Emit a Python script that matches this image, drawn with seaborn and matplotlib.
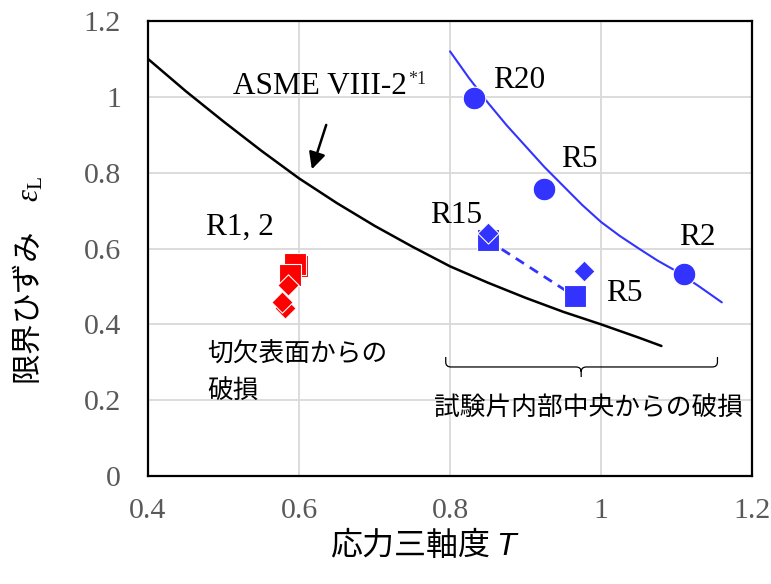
import numpy as np
import pandas as pd
import matplotlib
matplotlib.use("Agg")
import matplotlib.pyplot as plt
import seaborn as sns
from matplotlib.path import Path
from matplotlib.patches import PathPatch
from matplotlib.ticker import FuncFormatter

# ASME VIII-2 の限界ひずみ曲線
asme_T = [0.40, 0.45, 0.50, 0.55, 0.60, 0.65, 0.70, 0.75, 0.80, 0.85, 0.90, 0.95, 1.00, 1.05, 1.08]
asme_eps = [1.10, 1.015, 0.935, 0.858, 0.785, 0.72, 0.66, 0.605, 0.553, 0.51, 0.47, 0.433, 0.40, 0.365, 0.343]

# 内部破損の近似曲線
fit_T = [0.80, 0.825, 0.85, 0.875, 0.90, 0.925, 0.95, 0.975, 1.00, 1.025, 1.05, 1.075, 1.10, 1.13, 1.16]
fit_eps = [1.12, 1.05, 0.985, 0.925, 0.87, 0.815, 0.765, 0.715, 0.67, 0.633, 0.60, 0.568, 0.54, 0.50, 0.458]

# 丸（R20, R5, R2）
circ_T = [0.832, 0.924, 1.110]
circ_eps = [0.997, 0.757, 0.532]

# 青の四角・ひし形（R15, R5）
sq_T = [0.850, 0.965]
sq_eps = [0.622, 0.474]
dia_T = [0.850, 0.977]
dia_eps = [0.641, 0.541]

# 赤（R1, 2 切欠表面からの破損）
red_sq_T = [0.597, 0.594, 0.588]
red_sq_eps = [0.553, 0.560, 0.531]
red_dia_T = [0.581, 0.578, 0.585]
red_dia_eps = [0.443, 0.459, 0.503]

x_ticks = [0.4, 0.6, 0.8, 1.0, 1.2]
y_ticks = [0, 0.2, 0.4, 0.6, 0.8, 1.0, 1.2]

blue = "#3333ff"
red = "#ff0000"

sns.set_theme(style="whitegrid")
plt.rcParams["font.family"] = ["Liberation Serif", "Noto Sans CJK JP"]
plt.rcParams["mathtext.fontset"] = "custom"
plt.rcParams["mathtext.rm"] = "Liberation Serif"
plt.rcParams["mathtext.it"] = "Liberation Serif:italic"
plt.rcParams["mathtext.sf"] = "Liberation Sans:italic"

fig = plt.figure(figsize=(7.71, 5.84), dpi=100)
ax = fig.add_axes([0.192, 0.1849, 0.7834, 0.7791])

# 曲線
sns.lineplot(x=asme_T, y=asme_eps, color="black", lw=1.8, sort=False, ax=ax, zorder=3)
sns.lineplot(x=fit_T, y=fit_eps, color=blue, lw=1.5, sort=False, ax=ax, zorder=3)
sns.lineplot(x=sq_T, y=sq_eps, color=blue, lw=2, linestyle=(0, (3.5, 2.5)), ax=ax, zorder=3)

# マーカー
mk = dict(edgecolor="white", linewidth=0.8, legend=False, ax=ax, zorder=4)
sns.scatterplot(x=circ_T, y=circ_eps, marker="o", s=266, color=blue, **mk)
sns.scatterplot(x=sq_T, y=sq_eps, marker="s", s=243, color=blue, **mk)
sns.scatterplot(x=dia_T, y=dia_eps, marker="D", s=116, color=blue, **mk)
sns.scatterplot(x=red_sq_T, y=red_sq_eps, marker="s", s=243, color=red, **mk)
sns.scatterplot(x=red_dia_T, y=red_dia_eps, marker="D", s=118, color=red, **mk)

# ラベル
lab = dict(fontfamily="Liberation Serif", fontsize=22.5, color="black", va="baseline")
ax.text(0.857, 1.0245, "R20", **lab)
ax.text(0.947, 0.814, "R5", **lab)
ax.text(1.104, 0.608, "R2", **lab)
ax.text(0.7736, 0.6666, "R15", **lab)
ax.text(1.0071, 0.4613, "R5", **lab)
ax.text(0.477, 0.637, "R1, 2", **lab)
asme = ax.text(0.5129, 1.007, "ASME VIII-2", **lab)
ax.annotate("*1", xy=(1, 1), xycoords=asme, xytext=(1, 1), textcoords="offset points",
            ha="left", va="top", fontfamily="Liberation Serif", fontsize=13)
ax.annotate("", xy=(0.617, 0.809), xytext=(0.636, 0.926),
            arrowprops=dict(arrowstyle="-|>", color="black", lw=1.8, mutation_scale=25,
                            shrinkA=0, shrinkB=0))

jp = dict(fontfamily="Noto Sans CJK JP", fontsize=18.5, color="black")
ax.text(0.4785, 0.272, "切欠表面からの\n破損", ha="left", va="center", linespacing=1.55, **jp)
ax.text(0.983, 0.176, "試験片内部中央からの破損", ha="center", va="center", **jp)

# 中括弧
bx0, bx1, bxm = 0.7943, 1.1542, 0.9737
by0, by1, by2 = 0.314, 0.2876, 0.261
rx, ry = 0.007, 0.013
verts = [(bx0, by0), (bx0, by1 + ry), (bx0, by1), (bx0 + rx, by1),
         (bxm - rx, by1), (bxm, by1), (bxm, by1 - ry), (bxm, by2),
         (bxm, by1 - ry), (bxm, by1), (bxm + rx, by1),
         (bx1 - rx, by1), (bx1, by1), (bx1, by1 + ry), (bx1, by0)]
codes = [Path.MOVETO, Path.LINETO, Path.CURVE3, Path.CURVE3,
         Path.LINETO, Path.CURVE3, Path.CURVE3, Path.LINETO,
         Path.MOVETO, Path.CURVE3, Path.CURVE3,
         Path.LINETO, Path.CURVE3, Path.CURVE3, Path.LINETO]
ax.add_patch(PathPatch(Path(verts, codes), fill=False, lw=0.9, color="black", zorder=3))

# 軸
ax.set_xlim(0.4, 1.2)
ax.set_ylim(0, 1.2)
ax.set_xticks(x_ticks)
ax.set_yticks(y_ticks)
fmt = FuncFormatter(lambda v, p: f"{v:g}")
ax.xaxis.set_major_formatter(fmt)
ax.yaxis.set_major_formatter(fmt)
ax.tick_params(axis="both", length=0, labelsize=21.5, labelcolor="#595959")
ax.tick_params(axis="x", pad=16)
ax.tick_params(axis="y", pad=19.5)
ax.grid(True, color="#d9d9d9", lw=1.3)
ax.set_axisbelow(True)
for sp in ax.spines.values():
    sp.set_color("black")
    sp.set_linewidth(1.6)
    sp.set_zorder(5)

ax.set_xlabel("応力三軸度 $\\mathsf{T}$", fontfamily="Noto Sans CJK JP", fontsize=23,
              color="black", va="center")
ax.xaxis.set_label_coords(0.459, -0.152)
ax.set_ylabel("限界ひずみ\u3000$\\varepsilon_{\\mathrm{L}}$", fontfamily="Noto Sans CJK JP",
              fontsize=22, color="black", va="center")
ax.yaxis.set_label_coords(-0.199, 0.43)

fig.savefig("out.png", dpi=100)
